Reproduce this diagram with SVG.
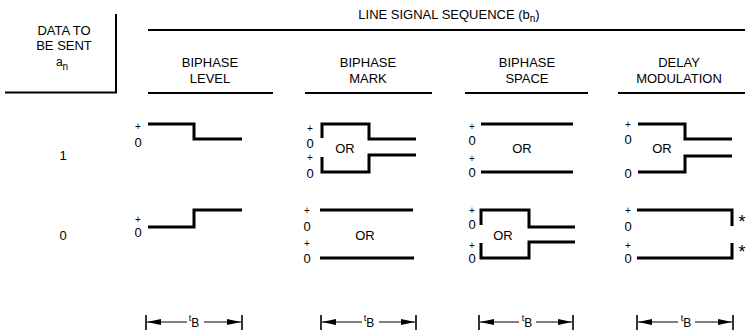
<svg xmlns="http://www.w3.org/2000/svg" width="746" height="334" viewBox="0 0 746 334">
<defs>
<style>
text{font-family:"Liberation Sans",Arial,sans-serif;fill:#000;text-anchor:middle}
.h{font-size:13px}
.l{font-size:13px}
.p{font-size:10px}
.s{font-size:18px}
.rule{stroke:#000;stroke-width:2;fill:none}
.w{stroke:#000;stroke-width:3;fill:none;stroke-linejoin:miter}
.dim{stroke:#000;stroke-width:1.2;fill:none}
.bar{stroke:#000;stroke-width:1.6}
</style>
<marker id="ah" viewBox="0 0 14 6" refX="14" refY="3" markerWidth="14" markerHeight="6" markerUnits="userSpaceOnUse" orient="auto-start-reverse">
<path d="M0,0 L14,3 L0,6 Z" fill="#000"/>
</marker>
</defs>
<rect width="746" height="334" fill="#fff"/>

<g id="header">
<text class="h" x="64" y="35">DATA TO</text>
<text class="h" x="64" y="50">BE SENT</text>
<text x="62" y="66" font-size="12">a<tspan font-size="10" dy="4">n</tspan></text>
<line class="rule" x1="116" y1="14" x2="116" y2="93"/>
<line class="rule" x1="5" y1="92.5" x2="117" y2="92.5"/>
<text class="h" x="449" y="18.5">LINE SIGNAL SEQUENCE (b<tspan font-size="10" dy="3">n</tspan><tspan dy="-3">)</tspan></text>
<line class="rule" x1="148" y1="30" x2="745" y2="30"/>
<text class="h" x="210" y="66.5">BIPHASE</text>
<text class="h" x="210" y="83">LEVEL</text>
<line class="rule" x1="148" y1="93" x2="273" y2="93"/>
<text class="h" x="368" y="66.5">BIPHASE</text>
<text class="h" x="368" y="83">MARK</text>
<line class="rule" x1="305" y1="93" x2="432" y2="93"/>
<text class="h" x="527" y="66.5">BIPHASE</text>
<text class="h" x="527" y="83">SPACE</text>
<line class="rule" x1="465" y1="93" x2="588" y2="93"/>
<text class="h" x="679" y="66.5">DELAY</text>
<text class="h" x="679" y="83">MODULATION</text>
<line class="rule" x1="618" y1="93" x2="745" y2="93"/>
</g>

<g id="row1">
<text class="l" x="63" y="159.5">1</text>
<g id="r1-bl">
<text class="p" x="138" y="129.5">+</text>
<text class="l" x="138" y="146.5">0</text>
<path class="w" d="M148,124 H194 V139 H242"/>
</g>
<g id="r1-bm">
<text class="p" x="310" y="131.5">+</text>
<text class="l" x="310" y="147.5">0</text>
<text class="p" x="310" y="160.5">+</text>
<text class="l" x="310" y="177.5">0</text>
<path class="w" d="M322,138 V124 H369 V139 H416"/>
<path class="w" d="M322,157 V172 H369 V155 H416"/>
<text class="l" x="345" y="152.5">OR</text>
</g>
<g id="r1-bs">
<text class="p" x="472" y="129.5">+</text>
<text class="l" x="472" y="144.5">0</text>
<text class="p" x="472" y="161.5">+</text>
<text class="l" x="472" y="176.5">0</text>
<line class="w" x1="481" y1="124" x2="573" y2="124"/>
<line class="w" x1="481" y1="172" x2="573" y2="172"/>
<text class="l" x="522" y="152.5">OR</text>
</g>
<g id="r1-dm">
<text class="p" x="628" y="127.5">+</text>
<text class="l" x="628" y="143.5">0</text>
<text class="l" x="628" y="177.5">0</text>
<path class="w" d="M638,124 H685 V139 H732"/>
<path class="w" d="M638,172 H685 V156 H732"/>
<text class="l" x="662" y="152.5">OR</text>
</g>
</g>

<g id="row2">
<text class="l" x="63" y="239.5">0</text>
<g id="r2-bl">
<text class="p" x="138" y="222.5">+</text>
<text class="l" x="138" y="236.5">0</text>
<path class="w" d="M148,227 H194 V210 H242"/>
</g>
<g id="r2-bm">
<text class="p" x="307" y="213.5">+</text>
<text class="l" x="307" y="230.5">0</text>
<text class="p" x="307" y="246.5">+</text>
<text class="l" x="307" y="262.5">0</text>
<line class="w" x1="320" y1="210" x2="413" y2="210"/>
<line class="w" x1="320" y1="258" x2="414" y2="258"/>
<text class="l" x="365" y="239.5">OR</text>
</g>
<g id="r2-bs">
<text class="p" x="472" y="213.5">+</text>
<text class="l" x="472" y="228.5">0</text>
<text class="p" x="472" y="248.5">+</text>
<text class="l" x="472" y="262.5">0</text>
<path class="w" d="M481,225 V210 H529 V227 H575"/>
<path class="w" d="M481,243 V258 H529 V242 H575"/>
<text class="l" x="503" y="239.5">OR</text>
</g>
<g id="r2-dm">
<text class="p" x="628" y="213.5">+</text>
<text class="l" x="628" y="230.5">0</text>
<text class="p" x="628" y="248.5">+</text>
<text class="l" x="628" y="262.5">0</text>
<path class="w" d="M637,210 H732 V226"/>
<path class="w" d="M637,258 H732 V243"/>
<text class="s" x="742" y="227.5">*</text>
<text class="s" x="742" y="257.5">*</text>
</g>
</g>

<g id="connectors">
<g id="tb1">
<line class="bar" x1="146" y1="315" x2="146" y2="330"/>
<line class="bar" x1="242" y1="315" x2="242" y2="330"/>
<line class="dim" x1="187" y1="322" x2="147" y2="322" marker-end="url(#ah)"/>
<line class="dim" x1="204" y1="322" x2="241" y2="322" marker-end="url(#ah)"/>
</g>
<g id="tb2">
<line class="bar" x1="321" y1="315" x2="321" y2="330"/>
<line class="bar" x1="416" y1="315" x2="416" y2="330"/>
<line class="dim" x1="362" y1="322" x2="322" y2="322" marker-end="url(#ah)"/>
<line class="dim" x1="379" y1="322" x2="415" y2="322" marker-end="url(#ah)"/>
</g>
<g id="tb3">
<line class="bar" x1="479" y1="315" x2="479" y2="330"/>
<line class="bar" x1="573" y1="315" x2="573" y2="330"/>
<line class="dim" x1="519" y1="322" x2="480" y2="322" marker-end="url(#ah)"/>
<line class="dim" x1="536" y1="322" x2="572" y2="322" marker-end="url(#ah)"/>
</g>
<g id="tb4">
<line class="bar" x1="637" y1="315" x2="637" y2="330"/>
<line class="bar" x1="733" y1="315" x2="733" y2="330"/>
<line class="dim" x1="678" y1="322" x2="638" y2="322" marker-end="url(#ah)"/>
<line class="dim" x1="695" y1="322" x2="732" y2="322" marker-end="url(#ah)"/>
</g>
</g>
<g id="labels-tb">
<text x="194" y="327" font-size="12"><tspan font-size="9" dy="-6">t</tspan><tspan dy="6">B</tspan></text>
<text x="369" y="327" font-size="12"><tspan font-size="9" dy="-6">t</tspan><tspan dy="6">B</tspan></text>
<text x="527" y="327" font-size="12"><tspan font-size="9" dy="-6">t</tspan><tspan dy="6">B</tspan></text>
<text x="686" y="327" font-size="12"><tspan font-size="9" dy="-6">t</tspan><tspan dy="6">B</tspan></text>
</g>
</svg>
